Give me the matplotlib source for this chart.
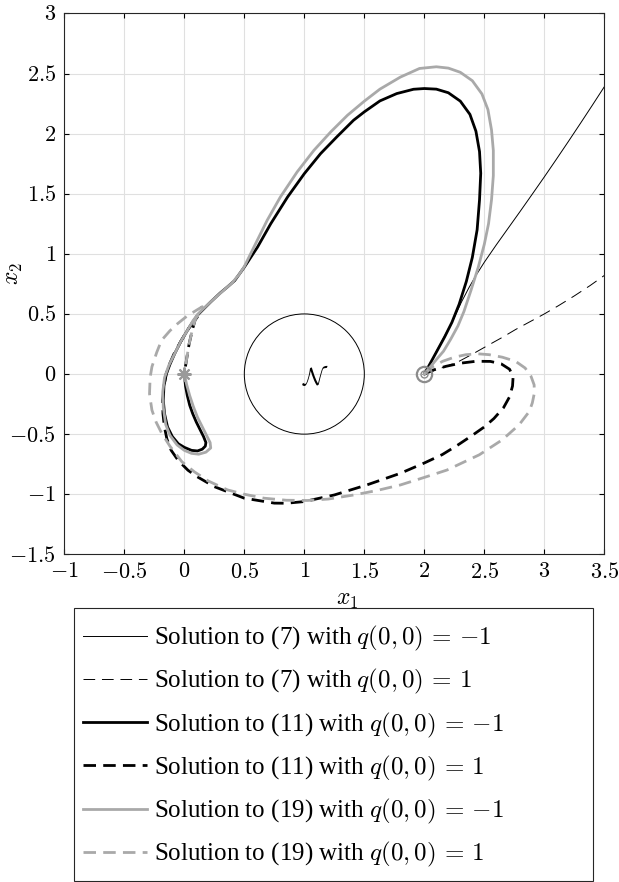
import matplotlib
matplotlib.use("Agg")
import matplotlib.pyplot as plt
from matplotlib.patches import Circle, Rectangle

# ---- data -------------------------------------------------------------
XTICKS = [-1, -0.5, 0, 0.5, 1, 1.5, 2, 2.5, 3, 3.5]
YTICKS = [-1.5, -1, -0.5, 0, 0.5, 1, 1.5, 2, 2.5, 3]

# Solution to (7), q(0,0) = -1  (thin solid)
s7m_x = [2.00, 2.04, 2.08, 2.16, 2.24, 2.31, 2.37, 2.43, 2.50, 2.60, 2.70, 2.80,
         2.90, 3.00, 3.10, 3.20, 3.30, 3.40, 3.50]
s7m_y = [0.00, 0.07, 0.15, 0.30, 0.45, 0.60, 0.715, 0.82, 0.93, 1.075, 1.215,
         1.355, 1.497, 1.64, 1.786, 1.934, 2.084, 2.236, 2.39]

# Solution to (7), q(0,0) = 1  (thin dashed)
s7p_x = [2.00, 2.10, 2.20, 2.29, 2.40, 2.54, 2.65, 2.76, 2.88, 3.00, 3.12, 3.25,
         3.38, 3.50]
s7p_y = [0.00, 0.035, 0.07, 0.106, 0.165, 0.244, 0.305, 0.37, 0.435, 0.50, 0.57,
         0.65, 0.735, 0.82]

# Solution to (11), q(0,0) = -1  (thick black solid)
s11m_x = [2.00, 2.05, 2.11, 2.17, 2.23, 2.29, 2.35, 2.40, 2.44, 2.46, 2.47, 2.46,
          2.43, 2.38, 2.30, 2.20, 2.10, 2.00, 1.91, 1.77, 1.63, 1.50, 1.41, 1.27,
          1.135, 1.00, 0.86, 0.72, 0.61, 0.50, 0.42, 0.36, 0.30, 0.22, 0.15, 0.11,
          0.07, 0.03, -0.03, -0.08, -0.12, -0.15, -0.17, -0.175, -0.165, -0.14,
          -0.10, -0.05, 0.00, 0.06, 0.11, 0.15, 0.175, 0.18, 0.16, 0.13, 0.10,
          0.07, 0.045, 0.025, 0.01, 0.00]
s11m_y = [0.00, 0.09, 0.20, 0.31, 0.43, 0.58, 0.77, 0.97, 1.20, 1.45, 1.67, 1.85,
          2.02, 2.16, 2.27, 2.34, 2.37, 2.375, 2.369, 2.333, 2.272, 2.181, 2.111,
          1.972, 1.833, 1.667, 1.472, 1.25, 1.056, 0.889, 0.778, 0.725, 0.675,
          0.60, 0.53, 0.49, 0.43, 0.37, 0.27, 0.17, 0.08, 0.00, -0.10, -0.22,
          -0.33, -0.44, -0.52, -0.58, -0.61, -0.635, -0.64, -0.625, -0.60, -0.57,
          -0.52, -0.46, -0.40, -0.33, -0.26, -0.18, -0.10, 0.00]

# Solution to (11), q(0,0) = 1  (thick black dashed)
s11p_x = [2.00, 2.08, 2.18, 2.30, 2.43, 2.55, 2.64, 2.71, 2.74, 2.735, 2.71, 2.66,
          2.58, 2.50, 2.40, 2.28, 2.15, 2.00, 1.80, 1.52, 1.25, 1.00, 0.85, 0.75,
          0.50, 0.25, 0.10, 0.03, -0.05, -0.11, -0.145, -0.166, -0.178, -0.18,
          -0.17, -0.152, -0.12, -0.083, -0.03, 0.028, 0.07, 0.11, 0.12, 0.09,
          0.065, 0.04, 0.02, 0.00]
s11p_y = [0.00, 0.035, 0.064, 0.09, 0.106, 0.105, 0.085, 0.04, -0.02, -0.10,
          -0.19, -0.28, -0.37, -0.44, -0.51, -0.59, -0.67, -0.74, -0.826, -0.923,
          -1.006, -1.061, -1.075, -1.074, -1.033, -0.937, -0.85, -0.80, -0.72,
          -0.634, -0.54, -0.44, -0.33, -0.22, -0.10, 0.00, 0.09, 0.174, 0.27,
          0.367, 0.43, 0.48, 0.49, 0.45, 0.36, 0.25, 0.13, 0.00]

# Solution to (19), q(0,0) = -1  (thick grey solid)
s19m_x = [2.00, 2.05, 2.10, 2.16, 2.22, 2.28, 2.33, 2.39, 2.45, 2.50, 2.535, 2.56,
          2.575, 2.575, 2.56, 2.53, 2.48, 2.40, 2.30, 2.20, 2.10, 1.96, 1.80,
          1.63, 1.50, 1.36, 1.22, 1.08, 0.94, 0.80, 0.69, 0.58, 0.50, 0.46, 0.40,
          0.32, 0.23, 0.15, 0.11, 0.07, 0.03, -0.03, -0.08, -0.13, -0.165, -0.18,
          -0.175, -0.155, -0.12, -0.06, 0.00, 0.06, 0.12, 0.18, 0.22, 0.215, 0.19,
          0.15, 0.11, 0.075, 0.045, 0.02, 0.00]
s19m_y = [0.00, 0.06, 0.12, 0.19, 0.29, 0.40, 0.52, 0.70, 0.89, 1.08, 1.25, 1.45,
          1.65, 1.86, 2.03, 2.20, 2.33, 2.44, 2.51, 2.545, 2.556, 2.542, 2.47,
          2.37, 2.27, 2.153, 2.014, 1.861, 1.681, 1.472, 1.278, 1.056, 0.894,
          0.833, 0.76, 0.69, 0.61, 0.535, 0.495, 0.44, 0.37, 0.27, 0.17, 0.07,
          -0.03, -0.15, -0.28, -0.42, -0.51, -0.59, -0.635, -0.66, -0.667, -0.65,
          -0.615, -0.57, -0.52, -0.44, -0.36, -0.27, -0.18, -0.09, 0.00]

# Solution to (19), q(0,0) = 1  (thick grey dashed)
s19p_x = [2.00, 2.07, 2.153, 2.25, 2.347, 2.45, 2.54, 2.65, 2.76, 2.84, 2.889,
          2.915, 2.917, 2.90, 2.875, 2.79, 2.65, 2.458, 2.188, 2.00, 1.80, 1.60,
          1.413, 1.20, 1.025, 0.85, 0.665, 0.50, 0.36, 0.20, 0.083, -0.02, -0.12,
          -0.19, -0.235, -0.27, -0.29, -0.285, -0.27, -0.23, -0.19, -0.12,
          -0.055, 0.02, 0.10, 0.15, 0.09, 0.065, 0.04, 0.02, 0.00]
s19p_y = [0.00, 0.06, 0.106, 0.14, 0.161, 0.168, 0.161, 0.14, 0.106, 0.05, -0.019,
          -0.09, -0.158, -0.24, -0.311, -0.422, -0.547, -0.672, -0.799, -0.86,
          -0.923, -0.97, -1.006, -1.04, -1.052, -1.05, -1.033, -1.00, -0.964,
          -0.89, -0.813, -0.73, -0.60, -0.49, -0.40, -0.30, -0.165, -0.03, 0.06,
          0.18, 0.28, 0.36, 0.42, 0.48, 0.53, 0.56, 0.45, 0.36, 0.25, 0.13, 0.00]

START = (2.0, 0.0)
TARGET = (0.0, 0.0)
N_CENTER = (1.0, 0.0)
N_RADIUS = 0.5

LABELS = [
    r"Solution to (7) with $q(0,0)\,=\,{-1}$",
    r"Solution to (7) with $q(0,0)\,=\,1$",
    r"Solution to (11) with $q(0,0)\,=\,{-1}$",
    r"Solution to (11) with $q(0,0)\,=\,1$",
    r"Solution to (19) with $q(0,0)\,=\,{-1}$",
    r"Solution to (19) with $q(0,0)\,=\,1$",
]

GREY = "#a9a9a9"

plt.rcParams.update({
    "font.family": "serif",
    "font.serif": ["Liberation Serif", "DejaVu Serif"],
    "mathtext.fontset": "cm",
    "axes.linewidth": 0.8,
    "axes.edgecolor": "#262626",
    "xtick.direction": "in",
    "ytick.direction": "in",
    "xtick.top": True,
    "ytick.right": True,
    "xtick.major.size": 3.6,
    "ytick.major.size": 3.6,
    "xtick.major.width": 0.8,
    "ytick.major.width": 0.8,
})

fig = plt.figure(figsize=(6.19, 8.82), dpi=100)
ax = fig.add_axes([0.1039, 0.3715, 0.8724, 0.6133])

h1, = ax.plot(s7m_x, s7m_y, color="black", lw=0.7)
h2, = ax.plot(s7p_x, s7p_y, color="black", lw=0.7, ls=(0, (12, 7)))
h3, = ax.plot(s11m_x, s11m_y, color="black", lw=2.0)
h4, = ax.plot(s11p_x, s11p_y, color="black", lw=2.0, ls=(0, (4.5, 2.6)))
h5, = ax.plot(s19m_x, s19m_y, color=GREY, lw=2.0)
h6, = ax.plot(s19p_x, s19p_y, color=GREY, lw=2.0, ls=(0, (4.5, 2.6)))

ax.add_patch(Circle(N_CENTER, N_RADIUS, fill=False, color="black", lw=0.7))
ax.text(N_CENTER[0] + 0.09, N_CENTER[1] - 0.03, r"$\mathcal{N}$", fontsize=18,
        ha="center", va="center")

ax.plot(*START, marker="o", ms=11, mfc="none", mec="#8c8c8c", mew=1.6)
ax.plot(*START, marker="o", ms=5, mfc="none", mec="#8c8c8c", mew=1.0)
ax.plot(*TARGET, marker=(8, 2, 0), ms=10, color="#9a9a9a", mew=1.5)

ax.set_xlim(-1, 3.5)
ax.set_ylim(-1.5, 3)
ax.set_xticks(XTICKS)
ax.set_xticklabels([f"${t:g}$" for t in XTICKS], fontsize=16)
ax.set_yticks(YTICKS)
ax.set_yticklabels([f"${t:g}$" for t in YTICKS], fontsize=16)
ax.tick_params(axis="x", pad=6)
ax.tick_params(axis="y", pad=6)
ax.grid(True, color="#e0e0e0", lw=0.8)
ax.set_axisbelow(True)

ax.set_xlabel(r"$x_1$", fontsize=17)
ax.xaxis.set_label_coords(0.5235, -0.066)
ax.set_ylabel(r"$x_2$", fontsize=17)
ax.yaxis.set_label_coords(-0.073, 0.52)

# legend box, drawn where the original sits below the axes
fig.patches.append(Rectangle((74.3 / 619, 1 / 882), 519 / 619, 273.3 / 882,
                             transform=fig.transFigure, fill=False,
                             ec="#262626", lw=0.8))
fig.legend([h1, h2, h3, h4, h5, h6], LABELS, loc="upper left",
           bbox_to_anchor=(83.3 / 619, (882 - 624) / 882), frameon=False,
           fontsize=18, handlelength=2.53, handletextpad=0.28,
           labelspacing=0.565, borderpad=0, borderaxespad=0)

fig.savefig("out.png", dpi=100)
